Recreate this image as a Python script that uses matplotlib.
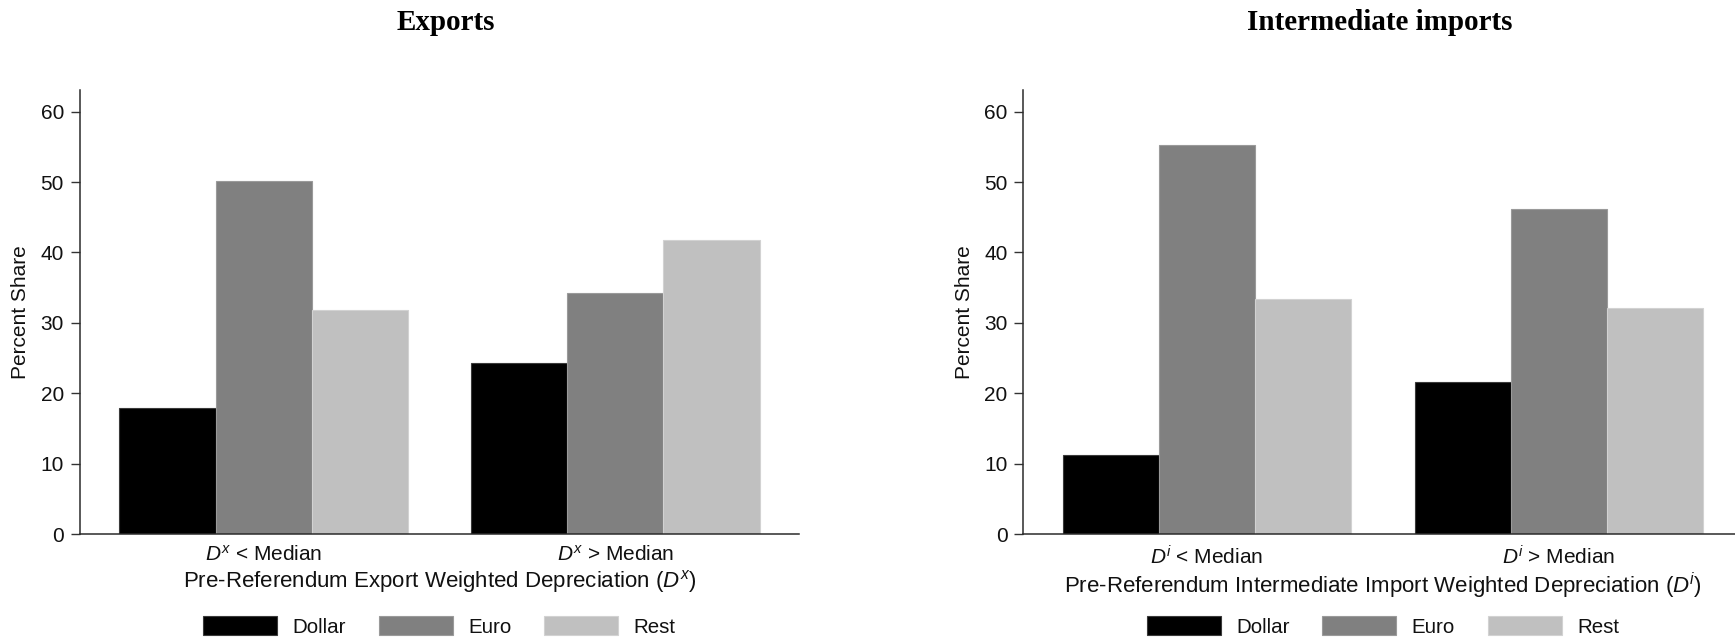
import numpy as np
import matplotlib
matplotlib.use("Agg")
import matplotlib.pyplot as plt

plt.rcParams['font.family'] = ['Liberation Sans', 'DejaVu Sans']
plt.rcParams['mathtext.fontset'] = 'custom'
plt.rcParams['mathtext.rm'] = 'Liberation Sans'
plt.rcParams['mathtext.it'] = 'Liberation Sans:italic'

# currency shares (percent) by pre-referendum depreciation group
currencies = ["Dollar", "Euro", "Rest"]
colors = ["#000000", "#808080", "#c0c0c0"]
edges = ["#3a3a3a", "#9a9a9a", "#d2d2d2"]

exports_low = [17.9, 50.1, 31.8]
exports_high = [24.3, 34.2, 41.7]
imports_low = [11.2, 55.3, 33.4]
imports_high = [21.6, 46.2, 32.1]

export_groups = [r"$D^x$ < Median", r"$D^x$ > Median"]
import_groups = [r"$D^i$ < Median", r"$D^i$ > Median"]
export_xlabel = r"Pre-Referendum Export Weighted Depreciation ($D^x$)"
import_xlabel = r"Pre-Referendum Intermediate Import Weighted Depreciation ($D^i$)"

txt = "#111111"
fs = 15

fig = plt.figure(figsize=(17.35, 6.4), dpi=100)


def panel(rect, low, high, groups, xlabel):
    ax = fig.add_axes(rect)
    gap = 0.66
    centers = np.array([1.0, 3.0 + gap + 1.0])
    for k, vals in enumerate(zip(low, high)):
        ax.bar(centers - 1 + k, vals, width=1.0, color=colors[k],
               edgecolor=edges[k], linewidth=0.8, label=currencies[k])
    ax.set_xlim(-0.91, centers[1] + 1.5 + 0.41)
    ax.set_ylim(0, 63)
    ax.set_yticks(np.arange(0, 61, 10))
    ax.set_xticks(centers)
    ax.set_xticklabels(groups)
    ax.tick_params(axis='x', length=0, pad=8, labelsize=fs, labelcolor=txt)
    ax.tick_params(axis='y', length=6.5, width=1.0, pad=5, labelsize=fs,
                   labelcolor=txt, color="#333333")
    for s in ["top", "right"]:
        ax.spines[s].set_visible(False)
    for s in ["left", "bottom"]:
        ax.spines[s].set_color("#2b2b2b")
        ax.spines[s].set_linewidth(1.1)
    ax.set_ylabel("Percent Share", fontsize=fs, color=txt)
    ax.yaxis.set_label_coords(-0.069, 0.5)
    ax.set_xlabel(xlabel, fontsize=16, color=txt, labelpad=2)
    ax.legend(loc="center", bbox_to_anchor=(0.5, -0.208), ncol=3, frameon=False,
              fontsize=14.8, handlelength=3.6, handleheight=1.05,
              handletextpad=0.75, columnspacing=1.6, labelcolor=txt)
    return ax


panel([0.0461, 0.1656, 0.4144, 0.693], exports_low, exports_high,
      export_groups, export_xlabel)
panel([0.5899, 0.1656, 0.4144, 0.693], imports_low, imports_high,
      import_groups, import_xlabel)

fig.text(0.257, 0.953, "Exports", ha="center", va="baseline",
         fontsize=21, fontweight="bold", family="Liberation Serif")
fig.text(0.795, 0.953, "Intermediate imports", ha="center", va="baseline",
         fontsize=21, fontweight="bold", family="Liberation Serif")

fig.savefig("out.png", dpi=100)
